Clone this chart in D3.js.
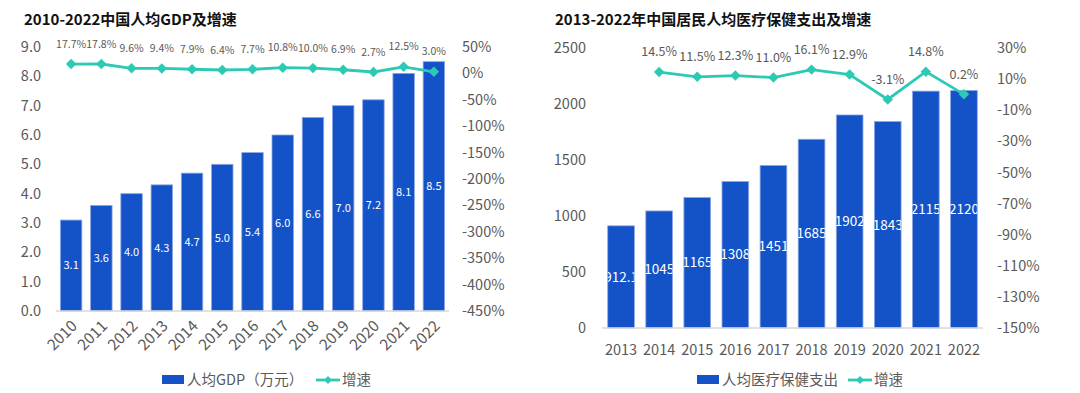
<!DOCTYPE html>
<html>
<head>
<meta charset="utf-8">
<script src="https://cdn.jsdelivr.net/npm/d3@7"></script>
<style>
  body { margin: 0; background: #fff; }
  text { font-family: "Microsoft YaHei", "Noto Sans CJK SC", sans-serif; }
</style>
</head>
<body>
<script>
// left chart data
var gdpYears = ["2010","2011","2012","2013","2014","2015","2016","2017","2018","2019","2020","2021","2022"];
var gdpValues = [3.1, 3.6, 4.0, 4.3, 4.7, 5.0, 5.4, 6.0, 6.6, 7.0, 7.2, 8.1, 8.5];
var gdpGrowth = [17.7, 17.8, 9.6, 9.4, 7.9, 6.4, 7.7, 10.8, 10.0, 6.9, 2.7, 12.5, 3.0];
var gdpLeftTicks = [0, 1, 2, 3, 4, 5, 6, 7, 8, 9];
var gdpRightTicks = [50, 0, -50, -100, -150, -200, -250, -300, -350, -400, -450];

// right chart data
var medYears = ["2013","2014","2015","2016","2017","2018","2019","2020","2021","2022"];
var medValues = [912.1, 1045, 1165, 1308, 1451, 1685, 1902, 1843, 2115, 2120];
var medGrowthYears = ["2014","2015","2016","2017","2018","2019","2020","2021","2022"];
var medGrowth = [14.5, 11.5, 12.3, 11.0, 16.1, 12.9, -3.1, 14.8, 0.2];
var medLeftTicks = [0, 500, 1000, 1500, 2000, 2500];
var medRightTicks = [30, 10, -10, -30, -50, -70, -90, -110, -130, -150];

var barColor = "#1453c7";
var lineColor = "#2ccab4";
var gray = "#595959";

var svg = d3.select("body").append("svg")
    .attr("width", 1080)
    .attr("height", 393);

function drawChart(o) {
    var g = svg.append("g");

    g.append("text")
        .attr("x", o.titleX).attr("y", 25)
        .attr("font-size", 15).attr("font-weight", "bold").attr("fill", "#111")
        .text(o.title);

    var x = d3.scaleBand().domain(o.years).range([o.x0, o.x1])
        .paddingInner(o.pad).paddingOuter(o.pad / 2);
    var y = d3.scaleLinear().domain(o.yDomain).range([o.yBottom, o.yTop]);
    var y2 = d3.scaleLinear().domain(o.y2Domain).range([o.yBottom, o.yTop]);

    // left axis labels
    g.append("g").selectAll("text").data(o.leftTicks).join("text")
        .attr("x", o.leftLabelX).attr("y", d => y(d)).attr("dy", "0.35em")
        .attr("text-anchor", "end").attr("font-size", 14.5).attr("fill", gray)
        .text(o.leftFmt);

    // right axis labels
    g.append("g").selectAll("text").data(o.rightTicks).join("text")
        .attr("x", o.rightLabelX).attr("y", d => y2(d)).attr("dy", "0.35em")
        .attr("text-anchor", "start").attr("font-size", 14.5).attr("fill", gray)
        .text(d => d + "%");

    // bars
    g.append("g").selectAll("rect").data(o.values).join("rect")
        .attr("x", (d, i) => x(o.years[i]))
        .attr("y", d => y(d))
        .attr("width", x.bandwidth())
        .attr("height", d => y(0) - y(d))
        .attr("fill", barColor)
        .attr("stroke", "#8aa6e4").attr("stroke-width", 0.8);

    // baseline
    g.append("line")
        .attr("x1", o.x0).attr("x2", o.x1)
        .attr("y1", y(0)).attr("y2", y(0))
        .attr("stroke", "#d9d9d9").attr("stroke-width", 1.5);

    // clip paths so labels stay inside bars
    var defs = svg.append("defs");
    o.values.forEach(function(d, i) {
        defs.append("clipPath").attr("id", o.id + "clip" + i)
            .append("rect")
            .attr("x", x(o.years[i])).attr("y", y(d))
            .attr("width", x.bandwidth()).attr("height", y(0) - y(d));
    });

    g.append("g").selectAll("text").data(o.values).join("text")
        .attr("clip-path", (d, i) => "url(#" + o.id + "clip" + i + ")")
        .attr("x", (d, i) => x(o.years[i]) + x.bandwidth() / 2)
        .attr("y", d => (y(d) + y(0)) / 2).attr("dy", "0.35em")
        .attr("text-anchor", "middle").attr("font-size", o.barFont).attr("fill", "#fff")
        .text(o.barFmt);

    // x labels
    var xl = g.append("g").selectAll("text").data(o.years).join("text")
        .attr("fill", gray).text(d => d);
    if (o.rotate) {
        xl.attr("text-anchor", "end").attr("font-size", 15.5)
          .attr("transform", d => "translate(" + (x(d) + x.bandwidth() / 2 + 7) + "," + (y(0) + 16) + ") rotate(-45)");
    } else {
        xl.attr("text-anchor", "middle").attr("font-size", 14.5)
          .attr("x", d => x(d) + x.bandwidth() / 2)
          .attr("y", y(0) + 27);
    }

    // growth line
    var cx = d => x(d) + x.bandwidth() / 2;
    var pts = o.growth.map((v, i) => [cx(o.growthYears[i]), y2(v), v]);
    g.append("path")
        .attr("d", d3.line()(pts.map(p => [p[0], p[1]])))
        .attr("fill", "none").attr("stroke", lineColor).attr("stroke-width", 2.8);

    var diamond = d3.symbol().type(d3.symbolDiamond2).size(70);
    g.append("g").selectAll("path").data(pts).join("path")
        .attr("d", diamond)
        .attr("transform", p => "translate(" + p[0] + "," + p[1] + ")")
        .attr("fill", lineColor);

    g.append("g").selectAll("text").data(pts).join("text")
        .attr("x", p => p[0]).attr("y", p => p[1] - 20).attr("dy", "0.35em")
        .attr("text-anchor", "middle").attr("font-size", o.lineFont).attr("fill", gray)
        .text(p => p[2].toFixed(1) + "%");

    // legend
    var lg = g.append("g");
    lg.append("rect").attr("x", o.legX).attr("y", 375).attr("width", 22).attr("height", 9)
        .attr("fill", barColor);
    lg.append("text").attr("x", o.legX + 25).attr("y", 380).attr("dy", "0.35em")
        .attr("font-size", 14.5).attr("fill", gray).text(o.legBar);
    lg.append("line").attr("x1", o.legLineX).attr("x2", o.legLineX + 24)
        .attr("y1", 380).attr("y2", 380)
        .attr("stroke", lineColor).attr("stroke-width", 2.8);
    lg.append("path").attr("d", d3.symbol().type(d3.symbolDiamond2).size(40))
        .attr("transform", "translate(" + (o.legLineX + 12) + ",380)").attr("fill", lineColor);
    lg.append("text").attr("x", o.legLineX + 26).attr("y", 380).attr("dy", "0.35em")
        .attr("font-size", 14.5).attr("fill", gray).text("增速");
}

drawChart({
    id: "gdp",
    title: "2010-2022中国人均GDP及增速",
    titleX: 24,
    years: gdpYears, values: gdpValues,
    growthYears: gdpYears, growth: gdpGrowth,
    x0: 56, x1: 449, pad: 0.29,
    yDomain: [0, 9], y2Domain: [-450, 50],
    yTop: 47, yBottom: 311,
    leftTicks: gdpLeftTicks, rightTicks: gdpRightTicks,
    leftFmt: d => d.toFixed(1),
    leftLabelX: 41, rightLabelX: 462,
    barFont: 11, barFmt: d => d.toFixed(1),
    lineFont: 10.5,
    rotate: true,
    legX: 162, legLineX: 316, legBar: "人均GDP（万元）"
});

drawChart({
    id: "med",
    title: "2013-2022年中国居民人均医疗保健支出及增速",
    titleX: 555,
    years: medYears, values: medValues,
    growthYears: medGrowthYears, growth: medGrowth,
    x0: 602, x1: 983, pad: 0.3,
    yDomain: [0, 2500], y2Domain: [-150, 30],
    yTop: 48, yBottom: 328,
    leftTicks: medLeftTicks, rightTicks: medRightTicks,
    leftFmt: d => d,
    leftLabelX: 586, rightLabelX: 997,
    barFont: 13.5, barFmt: d => (d % 1 ? d.toFixed(1) : d),
    lineFont: 12.5,
    rotate: false,
    legX: 697, legLineX: 848, legBar: "人均医疗保健支出"
});
</script>
</body>
</html>
